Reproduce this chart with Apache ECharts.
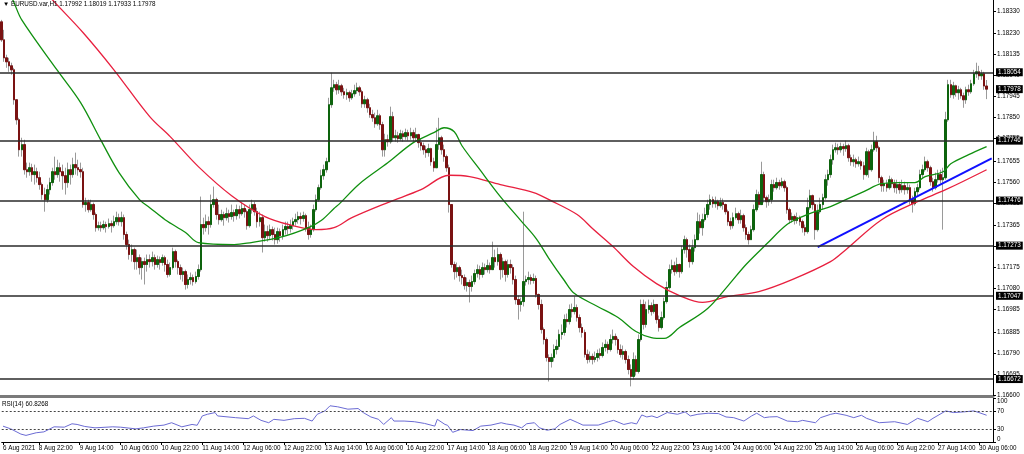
<!DOCTYPE html>
<html><head><meta charset="utf-8">
<script src="https://cdn.jsdelivr.net/npm/echarts@6/dist/echarts.min.js"></script>
<style>html,body{margin:0;padding:0;background:#fff}#c{width:1024px;height:454px}</style>
</head><body><div id="c"></div>
<script>
const timeLabels = ['6 Aug 2021','8 Aug 22:00','9 Aug 14:00','10 Aug 06:00','10 Aug 22:00','11 Aug 14:00','12 Aug 06:00','12 Aug 22:00','13 Aug 14:00','16 Aug 06:00','16 Aug 22:00','17 Aug 14:00','18 Aug 06:00','18 Aug 22:00','19 Aug 14:00','20 Aug 06:00','22 Aug 22:00','23 Aug 14:00','24 Aug 06:00','24 Aug 22:00','25 Aug 14:00','26 Aug 06:00','26 Aug 22:00','27 Aug 14:00','30 Aug 06:00'];
const priceTicks = [1.16600,1.16695,1.16790,1.16885,1.16985,1.17080,1.17175,1.17270,1.17365,1.17465,1.17560,1.17655,1.17755,1.17850,1.17945,1.18040,1.18135,1.18230,1.18330];
const rsiTicks = [0,30,70,100];
const rsiLevels = [30,70];
const levels = [1.18054,1.17746,1.17476,1.17273,1.17047,1.16672];
const lastPrice = 1.17978;
const firstOpen = 1.18281;

const closes = [
1.18200,1.18119,1.18101,1.18083,1.18065,1.17930,1.17840,1.17705,1.17728,1.17615,1.17606,1.17624,1.17593,1.17606,1.17579,1.17548,
1.17503,1.17480,1.17525,1.17557,1.17606,1.17593,1.17624,1.17606,1.17588,1.17557,1.17615,1.17593,1.17638,1.17624,1.17615,1.17606,
1.17458,1.17467,1.17435,1.17458,1.17413,1.17354,1.17363,1.17354,1.17368,1.17359,1.17372,1.17363,1.17381,1.17399,1.17381,1.17399,
1.17323,1.17278,1.17233,1.17255,1.17201,1.17219,1.17174,1.17201,1.17188,1.17210,1.17201,1.17219,1.17188,1.17210,1.17197,1.17219,
1.17188,1.17143,1.17174,1.17246,1.17201,1.17174,1.17143,1.17156,1.17098,1.17120,1.17129,1.17111,1.17134,1.17165,1.17368,1.17354,
1.17381,1.17368,1.17458,1.17480,1.17413,1.17390,1.17413,1.17399,1.17417,1.17404,1.17422,1.17408,1.17435,1.17417,1.17440,1.17426,
1.17363,1.17435,1.17458,1.17426,1.17381,1.17399,1.17309,1.17336,1.17318,1.17345,1.17323,1.17300,1.17336,1.17318,1.17345,1.17359,
1.17350,1.17363,1.17381,1.17390,1.17404,1.17395,1.17408,1.17354,1.17323,1.17345,1.17435,1.17480,1.17534,1.17588,1.17615,1.17651,
1.17908,1.17984,1.17998,1.17975,1.17993,1.17966,1.17953,1.17962,1.17939,1.17957,1.17971,1.17984,1.17966,1.17912,1.17930,1.17894,
1.17863,1.17849,1.17822,1.17858,1.17818,1.17705,1.17750,1.17741,1.17854,1.17759,1.17768,1.17755,1.17777,1.17764,1.17782,1.17768,
1.17782,1.17759,1.17773,1.17737,1.17723,1.17705,1.17692,1.17710,1.17651,1.17624,1.17728,1.17759,1.17705,1.17674,1.17624,1.17458,
1.17188,1.17156,1.17174,1.17138,1.17129,1.17093,1.17107,1.17089,1.17111,1.17147,1.17165,1.17143,1.17174,1.17165,1.17183,1.17165,
1.17219,1.17201,1.17233,1.17165,1.17201,1.17143,1.17188,1.17174,1.17120,1.17030,1.17008,1.17021,1.17111,1.17120,1.17129,1.17116,
1.17125,1.17053,1.17008,1.16895,1.16850,1.16769,1.16751,1.16769,1.16805,1.16819,1.16873,1.16882,1.16940,1.16931,1.16985,1.16976,
1.16994,1.16949,1.16904,1.16882,1.16783,1.16760,1.16774,1.16760,1.16769,1.16787,1.16778,1.16814,1.16828,1.16805,1.16850,1.16864,
1.16850,1.16805,1.16783,1.16796,1.16760,1.16715,1.16684,1.16760,1.16706,1.16850,1.17008,1.16918,1.16985,1.17003,1.16976,1.17008,
1.16940,1.16904,1.16949,1.17021,1.17084,1.17165,1.17183,1.17156,1.17188,1.17156,1.17255,1.17300,1.17255,1.17201,1.17264,1.17300,
1.17381,1.17354,1.17390,1.17413,1.17458,1.17480,1.17462,1.17471,1.17453,1.17467,1.17458,1.17426,1.17381,1.17363,1.17399,1.17417,
1.17390,1.17408,1.17354,1.17323,1.17300,1.17345,1.17435,1.17503,1.17458,1.17593,1.17489,1.17471,1.17480,1.17548,1.17534,1.17557,
1.17543,1.17561,1.17534,1.17435,1.17390,1.17404,1.17386,1.17399,1.17381,1.17354,1.17336,1.17444,1.17498,1.17458,1.17345,1.17426,
1.17458,1.17489,1.17570,1.17593,1.17660,1.17705,1.17714,1.17705,1.17719,1.17710,1.17723,1.17669,1.17651,1.17660,1.17642,1.17651,
1.17633,1.17593,1.17696,1.17615,1.17705,1.17741,1.17714,1.17579,1.17543,1.17552,1.17534,1.17570,1.17552,1.17534,1.17548,1.17525,
1.17543,1.17525,1.17534,1.17480,1.17462,1.17516,1.17534,1.17593,1.17615,1.17651,1.17624,1.17561,1.17534,1.17570,1.17593,1.17570,
1.17579,1.17840,1.17998,1.17953,1.17993,1.17962,1.17975,1.17948,1.17930,1.17975,1.17966,1.18002,1.18047,1.18056,1.18038,1.18047,1.17992,1.17978];

const highs = [
1.18290,1.18245,1.18133,1.18119,1.18097,1.18074,1.17930,1.17849,1.17759,1.17750,1.17647,1.17647,1.17642,1.17638,1.17624,1.17606,
1.17557,1.17534,1.17548,1.17579,1.17624,1.17674,1.17660,1.17647,1.17638,1.17624,1.17647,1.17638,1.17669,1.17692,1.17660,1.17647,
1.17624,1.17489,1.17480,1.17480,1.17467,1.17422,1.17381,1.17381,1.17386,1.17381,1.17395,1.17386,1.17408,1.17426,1.17417,1.17426,
1.17413,1.17336,1.17300,1.17278,1.17264,1.17255,1.17233,1.17219,1.17219,1.17233,1.17233,1.17246,1.17233,1.17228,1.17224,1.17233,
1.17228,1.17210,1.17197,1.17264,1.17255,1.17210,1.17188,1.17174,1.17165,1.17143,1.17152,1.17143,1.17156,1.17188,1.17494,1.17399,
1.17413,1.17404,1.17503,1.17539,1.17489,1.17458,1.17435,1.17426,1.17444,1.17435,1.17458,1.17435,1.17458,1.17453,1.17467,1.17458,
1.17435,1.17458,1.17480,1.17471,1.17444,1.17426,1.17413,1.17368,1.17363,1.17368,1.17359,1.17354,1.17354,1.17350,1.17368,1.17381,
1.17381,1.17390,1.17399,1.17417,1.17426,1.17422,1.17426,1.17417,1.17381,1.17368,1.17458,1.17503,1.17548,1.17615,1.17638,1.17669,
1.17939,1.18052,1.18020,1.18011,1.18020,1.18002,1.17984,1.17980,1.17971,1.17975,1.17998,1.18007,1.17993,1.17975,1.17948,1.17939,
1.17912,1.17885,1.17872,1.17885,1.17867,1.17831,1.17777,1.17773,1.17899,1.17876,1.17795,1.17786,1.17795,1.17791,1.17800,1.17795,
1.17804,1.17795,1.17804,1.17777,1.17755,1.17737,1.17723,1.17732,1.17714,1.17669,1.17804,1.17849,1.17768,1.17728,1.17683,1.17638,
1.17458,1.17201,1.17197,1.17183,1.17165,1.17143,1.17129,1.17120,1.17138,1.17165,1.17188,1.17183,1.17197,1.17192,1.17210,1.17197,
1.17291,1.17255,1.17264,1.17242,1.17219,1.17210,1.17210,1.17210,1.17188,1.17138,1.17048,1.17039,1.17426,1.17138,1.17156,1.17143,
1.17147,1.17138,1.17057,1.17030,1.16904,1.16859,1.16783,1.16787,1.16828,1.16850,1.16895,1.16918,1.16963,1.16967,1.17008,1.17012,
1.17044,1.17008,1.16963,1.16922,1.16895,1.16805,1.16796,1.16787,1.16796,1.16805,1.16810,1.16837,1.16850,1.16841,1.16873,1.16895,
1.16877,1.16859,1.16828,1.16823,1.16805,1.16778,1.16738,1.16792,1.16778,1.16873,1.17030,1.17030,1.17021,1.17030,1.17017,1.17030,
1.16985,1.16958,1.16976,1.17039,1.17111,1.17188,1.17210,1.17201,1.17219,1.17192,1.17273,1.17318,1.17309,1.17278,1.17300,1.17323,
1.17422,1.17413,1.17417,1.17444,1.17480,1.17503,1.17494,1.17494,1.17480,1.17489,1.17485,1.17462,1.17435,1.17399,1.17422,1.17444,
1.17426,1.17435,1.17417,1.17368,1.17336,1.17363,1.17458,1.17525,1.17516,1.17651,1.17606,1.17498,1.17503,1.17570,1.17570,1.17579,
1.17570,1.17579,1.17570,1.17543,1.17444,1.17422,1.17413,1.17422,1.17408,1.17390,1.17368,1.17489,1.17525,1.17503,1.17467,1.17458,
1.17489,1.17507,1.17593,1.17615,1.17683,1.17728,1.17737,1.17732,1.17737,1.17732,1.17746,1.17732,1.17683,1.17683,1.17669,1.17674,
1.17660,1.17651,1.17714,1.17705,1.17728,1.17786,1.17768,1.17723,1.17588,1.17570,1.17570,1.17588,1.17579,1.17570,1.17570,1.17561,
1.17570,1.17561,1.17557,1.17548,1.17498,1.17534,1.17552,1.17615,1.17638,1.17674,1.17660,1.17633,1.17579,1.17602,1.17615,1.17615,
1.17624,1.17876,1.18020,1.18020,1.18011,1.17998,1.17993,1.17984,1.17962,1.17989,1.17998,1.18020,1.18065,1.18097,1.18083,1.18065,1.18056,1.18019];

const lows = [
1.18191,1.18101,1.18074,1.18056,1.18043,1.17908,1.17818,1.17674,1.17674,1.17593,1.17579,1.17588,1.17561,1.17548,1.17557,1.17525,
1.17480,1.17426,1.17467,1.17503,1.17543,1.17570,1.17579,1.17561,1.17525,1.17503,1.17534,1.17548,1.17579,1.17593,1.17588,1.17579,
1.17444,1.17426,1.17422,1.17426,1.17390,1.17336,1.17341,1.17336,1.17345,1.17332,1.17350,1.17332,1.17354,1.17368,1.17363,1.17359,
1.17300,1.17255,1.17210,1.17201,1.17165,1.17165,1.17143,1.17120,1.17098,1.17156,1.17174,1.17179,1.17165,1.17174,1.17165,1.17183,
1.17156,1.17129,1.17134,1.17165,1.17174,1.17143,1.17120,1.17111,1.17075,1.17080,1.17098,1.17093,1.17102,1.17120,1.17156,1.17323,
1.17336,1.17323,1.17354,1.17444,1.17390,1.17368,1.17381,1.17363,1.17386,1.17377,1.17390,1.17381,1.17390,1.17395,1.17408,1.17399,
1.17345,1.17354,1.17417,1.17408,1.17354,1.17359,1.17242,1.17291,1.17291,1.17300,1.17296,1.17278,1.17282,1.17291,1.17300,1.17323,
1.17323,1.17332,1.17345,1.17363,1.17372,1.17368,1.17381,1.17336,1.17300,1.17309,1.17336,1.17426,1.17471,1.17525,1.17570,1.17602,
1.17651,1.17894,1.17966,1.17953,1.17957,1.17948,1.17935,1.17930,1.17921,1.17930,1.17944,1.17957,1.17948,1.17894,1.17894,1.17872,
1.17849,1.17831,1.17804,1.17813,1.17795,1.17674,1.17674,1.17719,1.17732,1.17741,1.17741,1.17737,1.17746,1.17741,1.17750,1.17746,
1.17750,1.17741,1.17746,1.17714,1.17701,1.17683,1.17669,1.17674,1.17633,1.17606,1.17624,1.17705,1.17683,1.17651,1.17606,1.17422,
1.17174,1.17120,1.17129,1.17111,1.17098,1.17075,1.17066,1.17017,1.17066,1.17098,1.17129,1.17120,1.17129,1.17143,1.17152,1.17147,
1.17188,1.17174,1.17183,1.17120,1.17129,1.17111,1.17129,1.17147,1.17098,1.17008,1.16940,1.16976,1.16999,1.17093,1.17098,1.17098,
1.17102,1.17039,1.16985,1.16877,1.16828,1.16751,1.16661,1.16724,1.16751,1.16783,1.16805,1.16850,1.16868,1.16904,1.16918,1.16949,
1.16963,1.16931,1.16882,1.16859,1.16769,1.16742,1.16747,1.16738,1.16747,1.16751,1.16760,1.16769,1.16796,1.16787,1.16796,1.16832,
1.16823,1.16787,1.16769,1.16760,1.16742,1.16693,1.16639,1.16670,1.16688,1.16697,1.16841,1.16895,1.16904,1.16967,1.16958,1.16967,
1.16922,1.16886,1.16895,1.16940,1.17012,1.17075,1.17147,1.17138,1.17147,1.17129,1.17147,1.17237,1.17219,1.17174,1.17188,1.17246,
1.17300,1.17327,1.17318,1.17381,1.17399,1.17435,1.17444,1.17444,1.17435,1.17444,1.17435,1.17413,1.17363,1.17345,1.17350,1.17390,
1.17372,1.17372,1.17336,1.17300,1.17278,1.17300,1.17336,1.17426,1.17444,1.17458,1.17467,1.17444,1.17453,1.17462,1.17516,1.17525,
1.17525,1.17534,1.17516,1.17417,1.17372,1.17377,1.17368,1.17372,1.17363,1.17332,1.17318,1.17327,1.17435,1.17435,1.17300,1.17336,
1.17417,1.17435,1.17480,1.17543,1.17579,1.17638,1.17692,1.17683,1.17692,1.17678,1.17696,1.17651,1.17633,1.17629,1.17624,1.17629,
1.17615,1.17570,1.17585,1.17579,1.17606,1.17696,1.17696,1.17557,1.17516,1.17516,1.17516,1.17525,1.17534,1.17512,1.17507,1.17507,
1.17512,1.17503,1.17507,1.17458,1.17422,1.17453,1.17498,1.17525,1.17579,1.17606,1.17606,1.17543,1.17516,1.17525,1.17557,1.17552,
1.17345,1.17570,1.17831,1.17939,1.17935,1.17944,1.17930,1.17935,1.17894,1.17912,1.17948,1.17957,1.17993,1.18029,1.18020,1.18020,1.17975,1.17933];

const maGreen = [[0,1.18493],[5,1.18367],[8,1.1829],[22,1.18061],[31,1.17917],[39,1.17746],[46,1.17602],[54,1.1748],[58,1.17444],[64,1.1739],[72,1.17332],[77,1.17287],[91,1.17278],[96,1.17284],[110,1.17314],[120,1.17354],[125,1.17386],[130,1.1744],[132,1.1746],[140,1.17552],[151,1.17646],[161,1.17737],[169,1.17782],[173,1.17804],[177,1.17786],[180,1.17723],[187,1.17615],[195,1.17494],[203,1.17386],[209,1.17305],[214,1.17215],[220,1.17116],[224,1.17057],[233,1.16999],[241,1.16949],[248,1.16886],[254,1.16859],[259,1.16855],[265,1.16904],[276,1.1699],[284,1.17093],[291,1.17188],[299,1.1728],[307,1.17368],[313,1.17404],[319,1.17431],[324,1.17449],[330,1.1748],[337,1.17516],[344,1.17552],[351,1.17557],[357,1.17557],[361,1.17584],[368,1.17606],[371,1.17642],[378,1.17683],[385,1.17719]];
const maRed = [[0,1.18637],[20,1.1838],[32,1.18232],[44,1.18065],[58,1.17854],[66,1.17764],[77,1.17629],[90,1.17498],[103,1.17404],[114,1.17363],[123,1.17345],[130,1.17354],[137,1.17399],[151,1.17467],[164,1.17525],[175,1.1759],[183,1.17584],[195,1.17548],[208,1.17512],[214,1.1748],[225,1.17413],[231,1.1735],[239,1.17269],[247,1.17179],[256,1.17102],[265,1.17048],[274,1.17017],[284,1.17044],[296,1.17066],[309,1.1712],[324,1.17201],[330,1.17255],[344,1.1739],[358,1.17471],[369,1.17525],[385,1.17615]];
const trendLine = [[319,1.17266],[387,1.17666]];
const rsi = [[0,36],[3,30],[7,18],[9,15],[13,21],[16,23],[20,34.5],[24,33.7],[27,41.4],[29,39.9],[32,35.3],[36,32.2],[43,34.5],[46,33.7],[52,29.9],[55,32.2],[59,36.1],[63,38.4],[66,43.8],[70,34.5],[74,39.9],[76,38],[78,59.2],[80,63],[83,66.9],[84,59.2],[91,55.3],[96,53],[98,59.2],[101,49.2],[104,43.8],[106,51.5],[110,49.2],[114,53],[118,53.8],[121,47.6],[123,63],[126,70.7],[128,82.3],[131,80],[135,74.6],[139,76.1],[141,66.9],[144,56.9],[147,51.5],[149,39.9],[152,55.3],[153,47.6],[157,47.6],[161,46.1],[165,42.2],[169,36.1],[170,51.5],[173,39.9],[174,38],[176,22],[179,28.3],[184,26],[187,36.1],[191,38.4],[195,43.8],[197,41],[200,38.4],[203,32.2],[205,41.5],[208,43.8],[210,32.2],[213,26.8],[216,29.9],[218,39.9],[222,51.5],[225,43.8],[227,38.4],[233,38.4],[237,46.1],[239,49.2],[243,39.9],[246,43.8],[248,41],[250,61.5],[252,56.9],[254,59.2],[256,55.3],[260,66.9],[264,63],[267,68.4],[269,59.2],[272,63],[276,65.4],[280,64.6],[283,56.9],[286,55.3],[290,47.6],[293,59.2],[295,65.4],[298,55.3],[300,56.9],[303,57.6],[307,47.6],[311,46.1],[313,49.2],[318,43.8],[320,55.3],[324,63],[326,65.4],[330,60.7],[333,55.3],[336,60.7],[338,53.8],[343,43.8],[349,46.1],[354,39.9],[358,53.8],[362,46.1],[364,53.8],[369,70.7],[372,66.9],[376,68.4],[380,70.7],[382,66.9],[385,60.83]];

const NCAT = 388;
const cats = Array.from({length: NCAT}, (_, i) => String(i));
const labelAt = {0: timeLabels[0]};
for (let k = 1; k < timeLabels.length; k++) labelAt[14 + 16 * (k - 1)] = timeLabels[k];

const wickData = [], bodyData = [];
for (let i = 0; i < closes.length; i++) {
  const o = i === 0 ? firstOpen : closes[i - 1];
  const c = closes[i];
  const h = Math.max(highs[i], o, c), l = Math.min(lows[i], o, c);
  wickData.push([o, c, l, h]);
  bodyData.push([o, c, Math.min(o, c), Math.max(o, c)]);
}

const FONT = 'Liberation Sans';
const FS = 6.3;
const chart = echarts.init(document.getElementById('c'), null, {renderer: 'canvas'});
const showIdx = (idx) => labelAt[idx] !== undefined;
const boxLabel = {show: true, position: 'end', distance: 3, formatter: p => Number(p.value).toFixed(5),
  backgroundColor: '#000', color: '#fff', fontFamily: FONT, fontSize: FS, padding: [1, 2, 1, 2]};

chart.setOption({
  animation: false,
  backgroundColor: '#fff',
  title: {
    text: '\u25BC EURUSD.var,H1 1.17992 1.18019 1.17933 1.17978',
    left: 1, top: 0, padding: [1, 2],
    textStyle: {fontFamily: FONT, fontSize: FS, fontWeight: 'normal', color: '#000'}
  },
  graphic: [{type: 'text', left: 2, top: 401, z: 100,
    style: {text: 'RSI(14) 60.8268', fontFamily: FONT, fontSize: FS, fill: '#000'}}],
  grid: [
    {left: 0, right: 31, top: 0, height: 396},
    {left: 0, right: 31, top: 398, height: 44}
  ],
  xAxis: [
    {type: 'category', gridIndex: 0, data: cats, boundaryGap: true,
     axisLine: {show: true, lineStyle: {color: '#7a7a7a', width: 3}},
     axisTick: {show: false}, axisLabel: {show: false}, splitLine: {show: false}},
    {type: 'category', gridIndex: 1, data: cats, boundaryGap: true,
     axisLine: {show: true, lineStyle: {color: '#000', width: 1}},
     axisTick: {show: true, alignWithLabel: true, interval: showIdx, length: 3, lineStyle: {color: '#000'}},
     axisLabel: {show: true, interval: showIdx, align: 'left', margin: 3,
       formatter: (v, idx) => labelAt[idx] || '',
       fontFamily: FONT, fontSize: FS, color: '#000'},
     splitLine: {show: false}}
  ],
  yAxis: [
    {type: 'value', gridIndex: 0, position: 'right', min: 1.165957, max: 1.183795,
     axisLine: {show: true, lineStyle: {color: '#000', width: 1}},
     axisTick: {show: true, customValues: priceTicks, length: 3, lineStyle: {color: '#000'}},
     axisLabel: {show: true, customValues: priceTicks, margin: 4, formatter: v => v.toFixed(5),
       fontFamily: FONT, fontSize: FS, color: '#000'},
     splitLine: {show: false}},
    {type: 'value', gridIndex: 1, position: 'right', min: 0, max: 100,
     axisLine: {show: true, lineStyle: {color: '#000', width: 1}},
     axisTick: {show: true, customValues: rsiTicks, length: 3, lineStyle: {color: '#000'}},
     axisLabel: {show: true, customValues: rsiTicks, margin: 4,
       verticalAlignMinLabel: 'bottom', verticalAlignMaxLabel: 'top',
       fontFamily: FONT, fontSize: FS, color: '#000'},
     splitLine: {show: false}}
  ],
  series: [
    {type: 'candlestick', xAxisIndex: 0, yAxisIndex: 0, data: wickData, barWidth: 2,
     itemStyle: {color: '#9a9a9a', color0: '#9a9a9a', borderColor: '#9a9a9a', borderColor0: '#9a9a9a', borderWidth: 1}},
    {type: 'candlestick', xAxisIndex: 0, yAxisIndex: 0, data: bodyData, barWidth: 2,
     itemStyle: {color: '#0d630d', color0: '#7a1212', borderColor: '#0d630d', borderColor0: '#7a1212', borderWidth: 1},
     markLine: {
       silent: true, symbol: 'none', animation: false, precision: 5,
       lineStyle: {color: 'rgba(0,0,0,0)', width: 0},
       label: boxLabel,
       data: [{yAxis: lastPrice}]
     }},
    {type: 'line', xAxisIndex: 0, yAxisIndex: 0, data: maRed, showSymbol: false, symbol: 'none', smooth: 0.35,
     lineStyle: {color: '#e8203f', width: 1.3}, z: 3},
    {type: 'line', xAxisIndex: 0, yAxisIndex: 0, data: maGreen, showSymbol: false, symbol: 'none', smooth: 0.35,
     lineStyle: {color: '#10900f', width: 1.3}, z: 3},
    {type: 'line', xAxisIndex: 0, yAxisIndex: 0, data: trendLine, showSymbol: false, symbol: 'none',
     lineStyle: {color: '#1010ff', width: 2}, z: 4,
     markLine: {
       silent: true, symbol: 'none', animation: false, precision: 5,
       lineStyle: {color: '#2a2a2a', width: 1.6, type: 'solid'},
       label: boxLabel,
       data: levels.map(v => ({yAxis: v}))
     }},
    {type: 'line', xAxisIndex: 1, yAxisIndex: 1, data: rsi, showSymbol: false, symbol: 'none',
     lineStyle: {color: '#6b6bd4', width: 1},
     markLine: {
       silent: true, symbol: 'none', animation: false, label: {show: false}, precision: 2,
       lineStyle: {color: '#444', width: 1, type: [2, 2]},
       data: rsiLevels.map(v => ({yAxis: v}))
     }}
  ]
});
</script>
</body></html>
